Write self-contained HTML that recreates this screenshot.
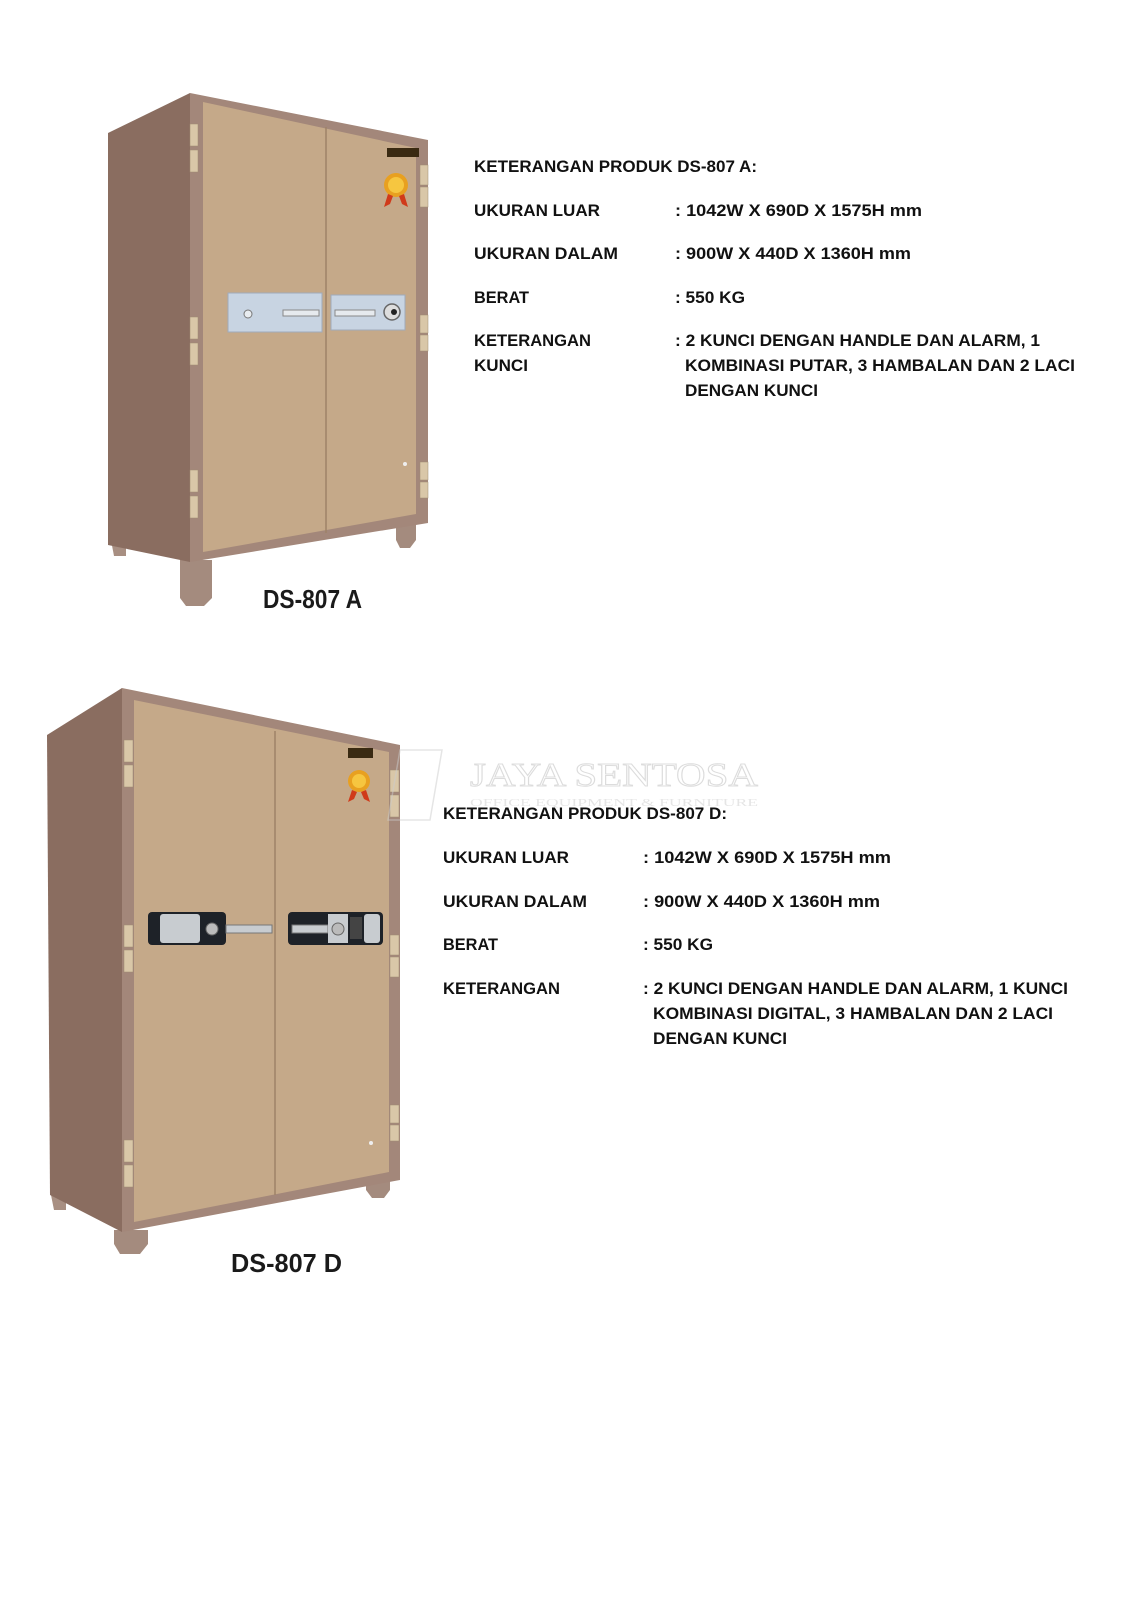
<!DOCTYPE html>
<html><head><meta charset="utf-8"><style>
html,body{margin:0;padding:0;background:#fff;}
svg{display:block;}
.t{font-family:"Liberation Sans",sans-serif;font-weight:bold;font-size:17px;fill:#111;}
.lab{font-family:"Liberation Sans",sans-serif;font-weight:bold;font-size:26px;fill:#1a1a1a;}
</style></head><body>
<svg width="1131" height="1600" viewBox="0 0 1131 1600" xmlns="http://www.w3.org/2000/svg">
<rect width="1131" height="1600" fill="#fff"/>
<!-- ===== SAFE A ===== -->
<g>
 <!-- feet -->
 <polygon points="110,535 126,540 126,556 114,556" fill="#a88f82"/>
 <polygon points="180,560 212,560 212,598 204,606 186,606 180,598" fill="#a48b7e"/>
 <polygon points="396,520 416,518 416,540 410,548 400,548 396,540" fill="#a48b7e"/>
 <!-- side -->
 <polygon points="108,133 190,93 190,562 108,545" fill="#8a6d60"/>
 <!-- front frame -->
 <polygon points="190,93 428,140 428,523 190,562" fill="#a3877a"/>
 <!-- doors -->
 <polygon points="203,102 416,148 416,514 203,552" fill="#c5a989"/>
 <line x1="326" y1="127" x2="326" y2="533" stroke="#9e8268" stroke-width="1.5"/>
 <!-- hinges -->
 <g fill="#d9c7a8" stroke="#9e8a70" stroke-width="0.5">
  <rect x="190" y="124" width="8" height="22"/><rect x="190" y="150" width="8" height="22"/>
  <rect x="190" y="317" width="8" height="22"/><rect x="190" y="343" width="8" height="22"/>
  <rect x="190" y="470" width="8" height="22"/><rect x="190" y="496" width="8" height="22"/>
  <rect x="420" y="165" width="8" height="20"/><rect x="420" y="187" width="8" height="20"/>
  <rect x="420" y="315" width="8" height="18"/><rect x="420" y="335" width="8" height="16"/>
  <rect x="420" y="462" width="8" height="18"/><rect x="420" y="482" width="8" height="16"/>
 </g>
 <!-- badge -->
 <rect x="387" y="148" width="32" height="9" fill="#3a2a12"/>
 <circle cx="396" cy="185" r="12" fill="#e8a020"/><circle cx="396" cy="185" r="8" fill="#f6c640"/>
 <polygon points="388,194 384,207 390,204 393,196" fill="#d03a1a"/>
 <polygon points="404,194 408,207 402,204 399,196" fill="#d03a1a"/>
 <!-- handle plates -->
 <rect x="228" y="293" width="94" height="39" fill="#c8d4e2" stroke="#a0aabb"/>
 <rect x="331" y="295" width="74" height="35" fill="#c8d4e2" stroke="#a0aabb"/>
 <circle cx="248" cy="314" r="4" fill="#e8ecf0" stroke="#777"/>
 <rect x="283" y="310" width="36" height="6" fill="#e6eaee" stroke="#888"/>
 <rect x="335" y="310" width="40" height="6" fill="#e6eaee" stroke="#888"/>
 <circle cx="392" cy="312" r="8" fill="#ddd" stroke="#666" stroke-width="1.5"/><circle cx="394" cy="312" r="3" fill="#222"/>
 <circle cx="405" cy="464" r="2" fill="#eee"/>
 <text class="lab" x="263" y="608" textLength="99" lengthAdjust="spacingAndGlyphs">DS-807 A</text>
</g>
<!-- ===== SAFE D ===== -->
<g>
 <polygon points="50,1190 66,1195 66,1210 54,1210" fill="#a88f82"/>
 <polygon points="114,1230 148,1230 148,1244 140,1254 120,1254 114,1244" fill="#a48b7e"/>
 <polygon points="366,1180 390,1178 390,1190 384,1198 372,1198 366,1190" fill="#a48b7e"/>
 <polygon points="47,735 122,688 122,1232 50,1195" fill="#8a6d60"/>
 <polygon points="122,688 400,745 400,1180 122,1232" fill="#a3877a"/>
 <polygon points="134,700 389,752 389,1172 134,1222" fill="#c5a989"/>
 <line x1="275" y1="731" x2="275" y2="1195" stroke="#9e8268" stroke-width="1.5"/>
 <g fill="#d9c7a8" stroke="#9e8a70" stroke-width="0.5">
  <rect x="124" y="740" width="9" height="22"/><rect x="124" y="765" width="9" height="22"/>
  <rect x="124" y="925" width="9" height="22"/><rect x="124" y="950" width="9" height="22"/>
  <rect x="124" y="1140" width="9" height="22"/><rect x="124" y="1165" width="9" height="22"/>
  <rect x="390" y="770" width="9" height="22"/><rect x="390" y="795" width="9" height="22"/>
  <rect x="390" y="935" width="9" height="20"/><rect x="390" y="957" width="9" height="20"/>
  <rect x="390" y="1105" width="9" height="18"/><rect x="390" y="1125" width="9" height="16"/>
 </g>
 <rect x="348" y="748" width="25" height="10" fill="#3a2a12"/>
 <circle cx="359" cy="781" r="11" fill="#e8a020"/><circle cx="359" cy="781" r="7" fill="#f6c640"/>
 <polygon points="352,790 348,802 354,799 357,792" fill="#d03a1a"/>
 <polygon points="366,790 370,802 364,799 361,792" fill="#d03a1a"/>
 <!-- digital handles -->
 <rect x="148" y="912" width="78" height="33" rx="4" fill="#1e2228"/>
 <rect x="160" y="914" width="40" height="29" rx="3" fill="#c8ccd0"/>
 <circle cx="212" cy="929" r="6" fill="#bbb" stroke="#666"/>
 <rect x="226" y="925" width="46" height="8" fill="#c8ccd0" stroke="#777"/>
 <rect x="288" y="912" width="95" height="33" rx="4" fill="#1e2228"/>
 <rect x="292" y="925" width="36" height="8" fill="#c8ccd0" stroke="#777"/>
 <rect x="328" y="914" width="20" height="29" fill="#c8ccd0"/>
 <circle cx="338" cy="929" r="6" fill="#bbb" stroke="#666"/>
 <rect x="350" y="917" width="12" height="22" fill="#444"/>
 <rect x="364" y="914" width="16" height="29" rx="3" fill="#c8ccd0"/>
 <circle cx="371" cy="1143" r="2" fill="#eee"/>
 <text class="lab" x="231" y="1272" textLength="111" lengthAdjust="spacingAndGlyphs">DS-807 D</text>
</g>
<!-- watermark -->
<g opacity="0.5">
 <polygon points="400,750 442,750 430,820 388,820" fill="none" stroke="#ccc" stroke-width="1.5"/>
 <text x="470" y="786" font-family="Liberation Serif,serif" font-size="34" fill="none" stroke="#bbb" stroke-width="1" textLength="288" lengthAdjust="spacingAndGlyphs">JAYA SENTOSA</text>
 <text x="470" y="806" font-family="Liberation Serif,serif" font-size="11" fill="#ccc" textLength="288" lengthAdjust="spacingAndGlyphs">OFFICE EQUIPMENT &amp; FURNITURE</text>
</g>
<!-- ===== TEXT A ===== -->
<g class="t">
 <text x="474" y="172" textLength="283" lengthAdjust="spacingAndGlyphs">KETERANGAN PRODUK DS-807 A:</text>
 <text x="474" y="216" textLength="126" lengthAdjust="spacingAndGlyphs">UKURAN LUAR</text>
 <text x="675" y="216" textLength="247" lengthAdjust="spacingAndGlyphs">: 1042W X 690D X 1575H mm</text>
 <text x="474" y="259" textLength="144" lengthAdjust="spacingAndGlyphs">UKURAN DALAM</text>
 <text x="675" y="259" textLength="236" lengthAdjust="spacingAndGlyphs">: 900W X 440D X 1360H mm</text>
 <text x="474" y="303" textLength="55" lengthAdjust="spacingAndGlyphs">BERAT</text>
 <text x="675" y="303" textLength="70" lengthAdjust="spacingAndGlyphs">: 550 KG</text>
 <text x="474" y="346" textLength="117" lengthAdjust="spacingAndGlyphs">KETERANGAN</text>
 <text x="474" y="371" textLength="54" lengthAdjust="spacingAndGlyphs">KUNCI</text>
 <text x="675" y="346" textLength="365" lengthAdjust="spacingAndGlyphs">: 2 KUNCI DENGAN HANDLE DAN ALARM, 1</text>
 <text x="685" y="371" textLength="390" lengthAdjust="spacingAndGlyphs">KOMBINASI PUTAR, 3 HAMBALAN DAN 2 LACI</text>
 <text x="685" y="396" textLength="133" lengthAdjust="spacingAndGlyphs">DENGAN KUNCI</text>
</g>
<!-- ===== TEXT D ===== -->
<g class="t">
 <text x="443" y="819" textLength="284" lengthAdjust="spacingAndGlyphs">KETERANGAN PRODUK DS-807 D:</text>
 <text x="443" y="863" textLength="126" lengthAdjust="spacingAndGlyphs">UKURAN LUAR</text>
 <text x="643" y="863" textLength="248" lengthAdjust="spacingAndGlyphs">: 1042W X 690D X 1575H mm</text>
 <text x="443" y="907" textLength="144" lengthAdjust="spacingAndGlyphs">UKURAN DALAM</text>
 <text x="643" y="907" textLength="237" lengthAdjust="spacingAndGlyphs">: 900W X 440D X 1360H mm</text>
 <text x="443" y="950" textLength="55" lengthAdjust="spacingAndGlyphs">BERAT</text>
 <text x="643" y="950" textLength="70" lengthAdjust="spacingAndGlyphs">: 550 KG</text>
 <text x="443" y="994" textLength="117" lengthAdjust="spacingAndGlyphs">KETERANGAN</text>
 <text x="643" y="994" textLength="425" lengthAdjust="spacingAndGlyphs">: 2 KUNCI DENGAN HANDLE DAN ALARM, 1 KUNCI</text>
 <text x="653" y="1019" textLength="400" lengthAdjust="spacingAndGlyphs">KOMBINASI DIGITAL, 3 HAMBALAN DAN 2 LACI</text>
 <text x="653" y="1044" textLength="134" lengthAdjust="spacingAndGlyphs">DENGAN KUNCI</text>
</g>
</svg>
</body></html>
